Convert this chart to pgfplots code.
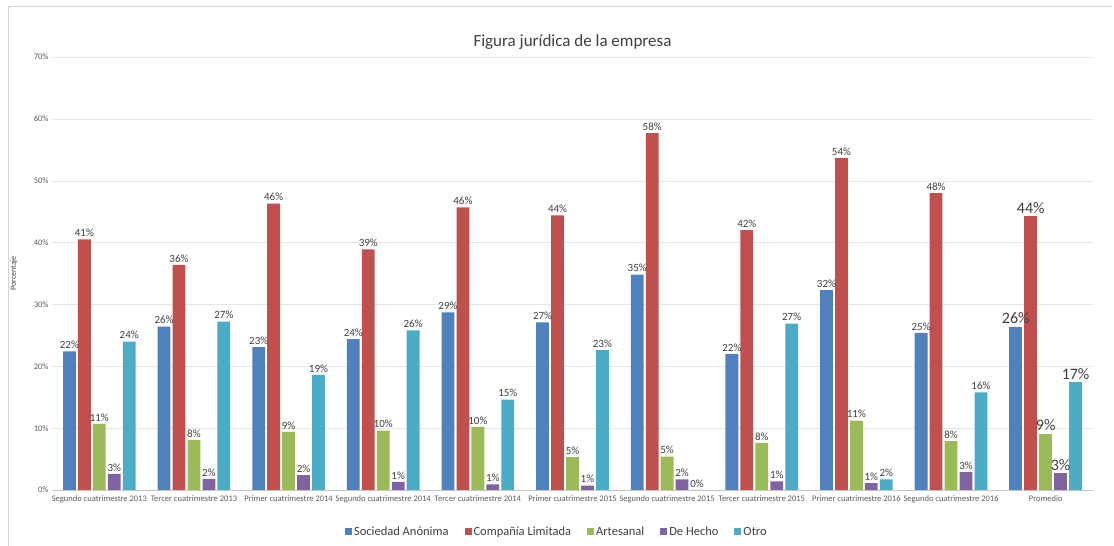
\documentclass[border=0pt]{standalone}
\usepackage{pgfplots}
\pgfplotsset{compat=1.18}
\usepackage{pgfplotstable}
\usepackage{fontspec}
\setmainfont{Carlito}

\definecolor{cSA}{HTML}{4F81BD}
\definecolor{cCL}{HTML}{C0504D}
\definecolor{cAR}{HTML}{9BBB59}
\definecolor{cDH}{HTML}{8064A2}
\definecolor{cOT}{HTML}{4BACC6}
\definecolor{txt}{HTML}{404040}

% x = periodo (0..9), valores en %
\pgfplotstableread{
x  sa    cl    ar    dh   ot
0  22.4  40.5  10.7  2.6  24.0
1  26.4  36.4  8.1   1.8  27.2
2  23.1  46.3  9.4   2.4  18.6
3  24.4  38.9  9.6   1.3  25.8
4  28.7  45.7  10.2  0.9  14.6
5  27.1  44.4  5.3   0.7  22.6
6  34.8  57.7  5.4   1.7  0.0
7  22.0  42.0  7.6   1.4  26.9
8  32.3  53.7  11.2  1.1  1.7
9  25.4  48.0  7.9   2.9  15.8
}\periodos

\pgfplotstableread{
x   sa    cl    ar   dh   ot
10  26.4  44.3  9.1  2.7  17.4
}\promedio

\pgfplotsset{
  lbl/.style={nodes near coords={\pgfmathprintnumber[fixed,precision=0]{\pgfplotspointmeta}\%},
    every node near coord/.append style={font=\fontsize{11}{12}\selectfont, text=txt, inner sep=2.5pt}},
  big/.style={every node near coord/.append style={font=\fontsize{16}{17}\selectfont}},
}

\begin{document}
\begin{tikzpicture}
\useasboundingbox (0,0) rectangle (1114pt,546pt);
\draw[gray!35] (8pt,-1pt) -- (8pt,540pt) -- (1112pt,540pt);
\begin{axis}[
  at={(52pt,56pt)}, anchor=south west,
  scale only axis, width=1041pt, height=433pt,
  ybar, bar width=0.135,
  xmin=-0.5, xmax=10.5, ymin=0, ymax=70,
  ytick={0,10,...,70},
  yticklabel={\pgfmathprintnumber{\tick}\%},
  /pgf/number format/assume math mode=true,
  xtick={0,...,10},
  xticklabels={Segundo cuatrimestre 2013, Tercer cuatrimestre 2013, Primer cuatrimestre 2014,
    Segundo cuatrimestre 2014, Tercer cuatrimestre 2014, Primer cuatrimestre 2015,
    Segundo cuatrimestre 2015, Tercer cuatrimestre 2015, Primer cuatrimestre 2016,
    Segundo cuatrimestre 2016, Promedio},
  ticklabel style={font=\fontsize{8.5}{9}\selectfont, text=txt!85},
  x tick label style={yshift=-2pt},
  major tick length=0pt,
  axis x line*=bottom, axis y line*=left,
  y axis line style={draw=none},
  x axis line style={gray!45},
  ymajorgrids, grid style={gray!20},
  ylabel={Porcentaje},
  ylabel style={font=\fontsize{8}{9}\selectfont, text=txt, at={(axis description cs:-0.03,0.5)}},
  title={Figura jurídica de la empresa},
  title style={font=\fontsize{17}{19}\selectfont, text=txt, yshift=-2pt},
  legend style={at={(0.485,-0.075)}, anchor=north, legend columns=-1, draw=none,
    font=\fontsize{12.5}{13}\selectfont, text=txt,
    /tikz/every even column/.append style={column sep=14pt}},
  legend image code/.code={\fill[#1] (0pt,-3.5pt) rectangle (7pt,3.5pt);},
  every axis plot/.append style={draw=none},
  clip=false,
]
\addplot[fill=cSA, bar shift=-0.316, lbl] table[y=sa] {\periodos};
\addplot[fill=cCL, bar shift=-0.158, lbl] table[y=cl] {\periodos};
\addplot[fill=cAR, bar shift=0, lbl] table[y=ar] {\periodos};
\addplot[fill=cDH, bar shift=0.158, lbl] table[y=dh] {\periodos};
\addplot[fill=cOT, bar shift=0.316, lbl] table[y=ot] {\periodos};
\legend{Sociedad Anónima, Compañía Limitada, Artesanal, De Hecho, Otro}
\addplot[fill=cSA, bar shift=-0.316, lbl, big, forget plot] table[y=sa] {\promedio};
\addplot[fill=cCL, bar shift=-0.158, lbl, big, forget plot] table[y=cl] {\promedio};
\addplot[fill=cAR, bar shift=0, lbl, big, forget plot] table[y=ar] {\promedio};
\addplot[fill=cDH, bar shift=0.158, lbl, big, forget plot] table[y=dh] {\promedio};
\addplot[fill=cOT, bar shift=0.316, lbl, big, forget plot] table[y=ot] {\promedio};
\end{axis}
\end{tikzpicture}
\end{document}
